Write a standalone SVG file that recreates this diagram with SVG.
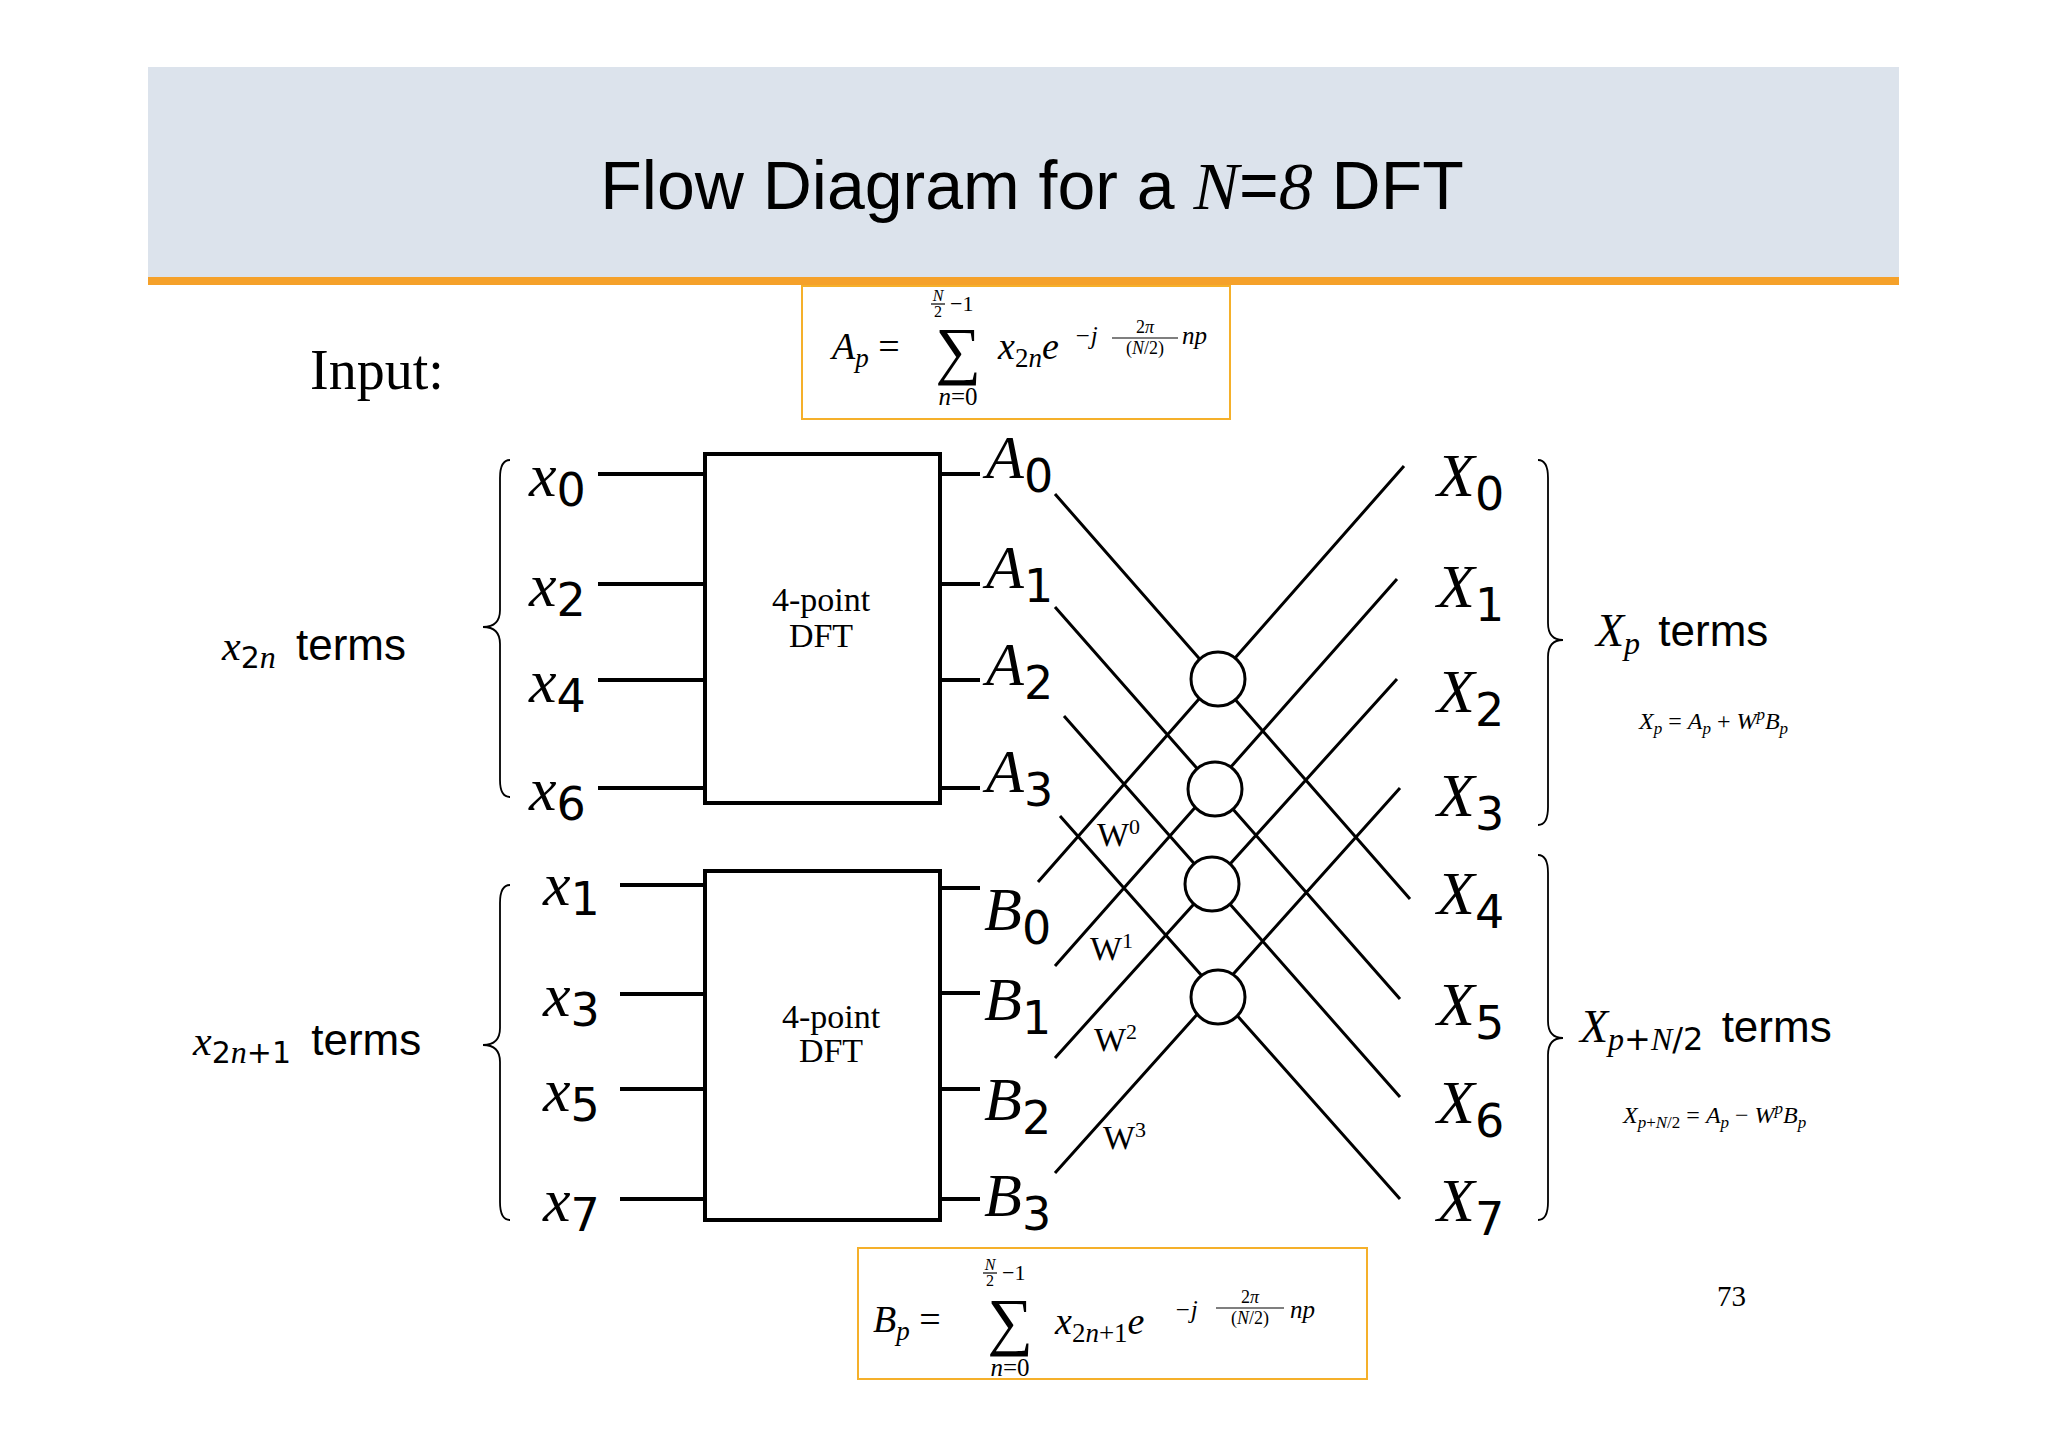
<svg xmlns="http://www.w3.org/2000/svg" width="2048" height="1447" viewBox="0 0 2048 1447">
<style>
.m{font-family:"Liberation Serif",serif;font-style:italic;fill:#000}
.r{font-family:"Liberation Serif",serif;font-style:normal;fill:#000}
.s{font-family:"DejaVu Sans","Liberation Sans",sans-serif;font-style:normal;fill:#000}
.ln{stroke:#000;stroke-width:3;fill:none}
.in{stroke:#000;stroke-width:4;fill:none}
.br{stroke:#000;stroke-width:1.8;fill:none}
.box{fill:#fff;stroke:#000;stroke-width:4}
.fb{fill:#fff;stroke:#f5b02a;stroke-width:2}
.lab{font-size:62px}
</style>
<rect width="2048" height="1447" fill="#fff"/>
<g id="title">
<rect x="148" y="67" width="1751" height="211" fill="#dce3ec"/>
<rect x="148" y="277" width="1751" height="8" fill="#f5a12a"/>
<text x="1032" y="209" text-anchor="middle" font-family="Liberation Sans,sans-serif" font-size="68">Flow Diagram for a <tspan class="m">N</tspan>=<tspan class="m">8</tspan> DFT</text>
</g>
<g id="input-label"><text x="310" y="389" class="r" font-size="56">Input:</text></g>
<g id="formulaA">
<rect class="fb" x="802" y="286" width="428" height="133"/>
<text x="832" y="359" class="m" font-size="38">A<tspan font-size="27" dy="8">p</tspan><tspan dy="-8" class="r"> = </tspan></text>
<text x="958" y="372" class="r" font-size="64" text-anchor="middle">∑</text>
<text x="938" y="301" class="m" font-size="16" text-anchor="middle">N</text>
<line x1="931" y1="304" x2="945" y2="304" stroke="#000" stroke-width="1.2"/>
<text x="938" y="317" class="r" font-size="16" text-anchor="middle">2</text>
<text x="950" y="311" class="r" font-size="22">−1</text>
<text x="958" y="405" class="m" font-size="25" text-anchor="middle">n<tspan class="r">=0</tspan></text>
<text x="998" y="359" class="m" font-size="38">x<tspan class="r" font-size="27" dy="8">2</tspan><tspan font-size="27">n</tspan><tspan dy="-8">e</tspan></text>
<text x="1074" y="344" class="m" font-size="25">−j</text>
<text x="1145" y="333" class="r" font-size="18" text-anchor="middle">2<tspan class="m">π</tspan></text>
<line x1="1112" y1="338" x2="1178" y2="338" stroke="#000" stroke-width="1.2"/>
<text x="1145" y="354" class="r" font-size="18" text-anchor="middle">(<tspan class="m">N</tspan>/2)</text>
<text x="1182" y="344" class="m" font-size="25">np</text>
</g>
<g id="formulaB">
<rect class="fb" x="858" y="1248" width="509" height="131"/>
<text x="873" y="1332" class="m" font-size="38">B<tspan font-size="27" dy="8">p</tspan><tspan dy="-8" class="r"> = </tspan></text>
<text x="1010" y="1343" class="r" font-size="64" text-anchor="middle">∑</text>
<text x="990" y="1270" class="m" font-size="16" text-anchor="middle">N</text>
<line x1="983" y1="1273" x2="997" y2="1273" stroke="#000" stroke-width="1.2"/>
<text x="990" y="1286" class="r" font-size="16" text-anchor="middle">2</text>
<text x="1002" y="1280" class="r" font-size="22">−1</text>
<text x="1010" y="1376" class="m" font-size="25" text-anchor="middle">n<tspan class="r">=0</tspan></text>
<text x="1055" y="1334" class="m" font-size="38">x<tspan class="r" font-size="27" dy="8">2</tspan><tspan font-size="27">n</tspan><tspan class="r" font-size="27">+1</tspan><tspan dy="-8">e</tspan></text>
<text x="1174" y="1318" class="m" font-size="25">−j</text>
<text x="1250" y="1303" class="r" font-size="18" text-anchor="middle">2<tspan class="m">π</tspan></text>
<line x1="1216" y1="1308" x2="1284" y2="1308" stroke="#000" stroke-width="1.2"/>
<text x="1250" y="1324" class="r" font-size="18" text-anchor="middle">(<tspan class="m">N</tspan>/2)</text>
<text x="1290" y="1318" class="m" font-size="25">np</text>
</g>
<g id="connectors">
<path class="in" d="M598 474H705M598 584H705M598 680H705M598 788H705M620 885H705M620 994H705M620 1089H705M620 1199H705"/>
<path class="in" d="M940 474H980M940 584H980M940 680H980M940 788H980M940 888H980M940 993H980M940 1089H980M940 1199H980"/>
<path class="ln" d="M1055 494L1410 899M1055 607L1400 999M1064 716L1400 1097M1060 816L1400 1199M1038 882L1404 466M1055 966L1397 579M1055 1058L1397 679M1055 1173L1400 788"/>
</g>
<g id="dft-top"><rect class="box" x="705" y="454" width="235" height="349"/>
<text x="821" y="611" class="r" font-size="34" text-anchor="middle">4-point</text>
<text x="821" y="647" class="r" font-size="34" text-anchor="middle">DFT</text></g>
<g id="dft-bottom"><rect class="box" x="705" y="871" width="235" height="349"/>
<text x="831" y="1028" class="r" font-size="34" text-anchor="middle">4-point</text>
<text x="831" y="1062" class="r" font-size="34" text-anchor="middle">DFT</text></g>
<g id="butterflies" fill="#fff" stroke="#000" stroke-width="3">
<circle cx="1218" cy="679" r="27"/><circle cx="1215" cy="789" r="27"/><circle cx="1212" cy="884" r="27"/><circle cx="1218" cy="997" r="27"/>
</g>
<g id="twiddles" class="r" font-size="34">
<text x="1097" y="846">W<tspan font-size="22" dy="-12">0</tspan></text>
<text x="1090" y="960">W<tspan font-size="22" dy="-12">1</tspan></text>
<text x="1094" y="1051">W<tspan font-size="22" dy="-12">2</tspan></text>
<text x="1103" y="1149">W<tspan font-size="22" dy="-12">3</tspan></text>
</g>
<g id="inputs" class="m lab">
<text x="529" y="496">x<tspan class="s" font-size="46" dy="10">0</tspan></text>
<text x="529" y="606">x<tspan class="s" font-size="46" dy="10">2</tspan></text>
<text x="529" y="702">x<tspan class="s" font-size="46" dy="10">4</tspan></text>
<text x="529" y="810">x<tspan class="s" font-size="46" dy="10">6</tspan></text>
<text x="543" y="905">x<tspan class="s" font-size="46" dy="10">1</tspan></text>
<text x="543" y="1016">x<tspan class="s" font-size="46" dy="10">3</tspan></text>
<text x="543" y="1111">x<tspan class="s" font-size="46" dy="10">5</tspan></text>
<text x="543" y="1221">x<tspan class="s" font-size="46" dy="10">7</tspan></text>
</g>
<g id="dft-outputs" class="m lab">
<text x="986" y="478">A<tspan class="s" font-size="46" dy="14">0</tspan></text>
<text x="986" y="588">A<tspan class="s" font-size="46" dy="14">1</tspan></text>
<text x="986" y="685">A<tspan class="s" font-size="46" dy="14">2</tspan></text>
<text x="986" y="792">A<tspan class="s" font-size="46" dy="14">3</tspan></text>
<text x="984" y="930">B<tspan class="s" font-size="46" dy="14">0</tspan></text>
<text x="984" y="1020">B<tspan class="s" font-size="46" dy="14">1</tspan></text>
<text x="984" y="1120">B<tspan class="s" font-size="46" dy="14">2</tspan></text>
<text x="984" y="1216">B<tspan class="s" font-size="46" dy="14">3</tspan></text>
</g>
<g id="outputs" class="m lab">
<text x="1437" y="496">X<tspan class="s" font-size="46" dy="14">0</tspan></text>
<text x="1437" y="607">X<tspan class="s" font-size="46" dy="14">1</tspan></text>
<text x="1437" y="712">X<tspan class="s" font-size="46" dy="14">2</tspan></text>
<text x="1437" y="816">X<tspan class="s" font-size="46" dy="14">3</tspan></text>
<text x="1437" y="914">X<tspan class="s" font-size="46" dy="14">4</tspan></text>
<text x="1437" y="1025">X<tspan class="s" font-size="46" dy="14">5</tspan></text>
<text x="1437" y="1123">X<tspan class="s" font-size="46" dy="14">6</tspan></text>
<text x="1437" y="1221">X<tspan class="s" font-size="46" dy="14">7</tspan></text>
</g>
<g id="braces">
<path class="br" d="M510 460Q500 460 500 478V610Q500 627 483 627Q500 627 500 644V780Q500 797 510 797"/>
<path class="br" d="M510 885Q500 885 500 903V1028Q500 1045 483 1045Q500 1045 500 1062V1202Q500 1220 510 1220"/>
<path class="br" d="M1538 460Q1548 460 1548 478V623Q1548 640 1563 640Q1548 640 1548 657V807Q1548 825 1538 825"/>
<path class="br" d="M1538 855Q1548 855 1548 873V1021Q1548 1038 1563 1038Q1548 1038 1548 1055V1202Q1548 1220 1538 1220"/>
</g>
<g id="group-labels">
<text x="222" y="660" font-family="Liberation Sans,sans-serif" font-size="44"><tspan class="m" font-size="42">x</tspan><tspan class="s" font-size="30" dy="8">2</tspan><tspan class="m" font-size="32">n</tspan><tspan dy="-8" dx="8"> terms</tspan></text>
<text x="193" y="1055" font-family="Liberation Sans,sans-serif" font-size="44"><tspan class="m" font-size="42">x</tspan><tspan class="s" font-size="30" dy="8">2</tspan><tspan class="m" font-size="32">n</tspan><tspan class="s" font-size="30">+1</tspan><tspan dy="-8" dx="8"> terms</tspan></text>
<text x="1596" y="646" font-family="Liberation Sans,sans-serif" font-size="44"><tspan class="m" font-size="46">X</tspan><tspan class="m" font-size="32" dy="8">p</tspan><tspan dy="-8" dx="6"> terms</tspan></text>
<text x="1580" y="1042" font-family="Liberation Sans,sans-serif" font-size="44"><tspan class="m" font-size="46">X</tspan><tspan class="m" font-size="32" dy="8">p<tspan class="s">+</tspan>N<tspan class="s">/2</tspan></tspan><tspan dy="-8" dx="6"> terms</tspan></text>
<text x="1639" y="729" class="m" font-size="24">X<tspan font-size="17" dy="5">p</tspan><tspan dy="-5" class="r"> = </tspan>A<tspan font-size="17" dy="5">p</tspan><tspan dy="-5" class="r"> + </tspan>W<tspan font-size="17" dy="-9">p</tspan><tspan dy="9">B</tspan><tspan font-size="17" dy="5">p</tspan></text>
<text x="1623" y="1123" class="m" font-size="24">X<tspan font-size="17" dy="5">p<tspan class="r">+</tspan>N<tspan class="r">/2</tspan></tspan><tspan dy="-5" class="r"> = </tspan>A<tspan font-size="17" dy="5">p</tspan><tspan dy="-5" class="r"> − </tspan>W<tspan font-size="17" dy="-9">p</tspan><tspan dy="9">B</tspan><tspan font-size="17" dy="5">p</tspan></text>
</g>
<g id="page-number"><text x="1717" y="1306" class="r" font-size="29">73</text></g>
</svg>
